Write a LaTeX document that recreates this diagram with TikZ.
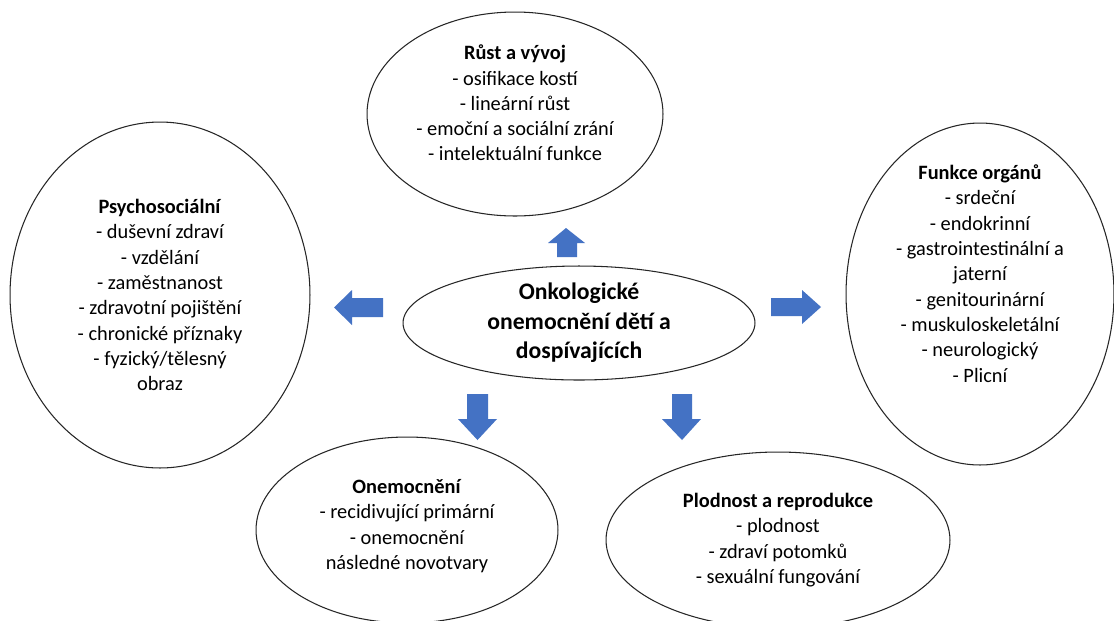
\documentclass[tikz,border=0pt]{standalone}
\usepackage{fontspec}
\setmainfont{Carlito}
\usepackage{xcolor}
\usepackage{tikz}
\usetikzlibrary{positioning,shapes}
\definecolor{arrowblue}{HTML}{4472C4}
\tikzstyle{bubble}=[ellipse, draw=black!85, line width=0.6pt, inner sep=0pt, fill=white]
\tikzstyle{txt}=[align=center, inner sep=0pt, text=black, font=\fontsize{11.6}{14.4}\selectfont]
\tikzstyle{hub}=[align=center, inner sep=0pt, text=black, font=\fontsize{13.5}{16.8}\selectfont\bfseries]
\tikzstyle{blockarrow}=[fill=arrowblue, draw=none]

\begin{document}
\begin{tikzpicture}[x=0.02cm, y=-0.02cm]
    \useasboundingbox (0,0) rectangle (1114,620);
    \fill[white] (0,0) rectangle (1114,620);

    % ellipses
    \node (growth) [bubble, minimum width=5.92cm, minimum height=4.08cm] at (515,114) {};
    \node (psycho) [bubble, minimum width=6.0cm, minimum height=6.92cm] at (160,295) {};
    \node (hub) [bubble, minimum width=7.04cm, minimum height=2.28cm] at (579,323) {};
    \node (organs) [bubble, minimum width=5.36cm, minimum height=6.84cm] at (980,294) {};
    \node (disease) [bubble, minimum width=6.04cm, minimum height=3.72cm] at (407,530) {};
    \node (fertility) [bubble, minimum width=6.88cm, minimum height=3.52cm] at (778,540) {};

    % texts
    \node (growthText) [txt] at (growth.center) [yshift=0.22cm]
        {\textbf{Růst a vývoj}\\- osifikace kostí\\- lineární růst\\- emoční a sociální zrání\\- intelektuální funkce};
    \node (psychoText) [txt] at (psycho.center)
        {\textbf{Psychosociální}\\- duševní zdraví\\- vzdělání\\- zaměstnanost\\- zdravotní pojištění\\- chronické příznaky\\- fyzický/tělesný\\obraz};
    \node (hubText) [hub] at (hub.center)
        {Onkologické\\onemocnění dětí a\\dospívajících};
    \node (organsText) [txt] at (organs.center) [yshift=0.41cm]
        {\textbf{Funkce orgánů}\\- srdeční\\- endokrinní\\- gastrointestinální a\\jaterní\\- genitourinární\\- muskuloskeletální\\- neurologický\\- Plicní};
    \node (diseaseText) [txt] at (disease.center) [yshift=0.08cm]
        {\textbf{Onemocnění}\\- recidivující primární\\- onemocnění\\následné novotvary};
    \node (fertilityText) [txt] at (fertility.center)
        {\textbf{Plodnost a reprodukce}\\- plodnost\\- zdraví potomků\\- sexuální fungování};

    % block arrows
    \fill[blockarrow] (566,228) -- (585,243) -- (577,243) -- (577,257) -- (557,257) -- (557,243) -- (548,243) -- cycle;
    \fill[blockarrow] (334,307.5) -- (352,290) -- (352,298) -- (383,298) -- (383,317) -- (352,317) -- (352,325) -- cycle;
    \fill[blockarrow] (821,307) -- (802,290) -- (802,298) -- (771,298) -- (771,316) -- (802,316) -- (802,324) -- cycle;
    \fill[blockarrow] (477.5,440) -- (458,419) -- (467,419) -- (467,394) -- (488,394) -- (488,419) -- (497,419) -- cycle;
    \fill[blockarrow] (682,440) -- (662,419) -- (672,419) -- (672,394) -- (692,394) -- (692,419) -- (701,419) -- cycle;
\end{tikzpicture}
\end{document}
